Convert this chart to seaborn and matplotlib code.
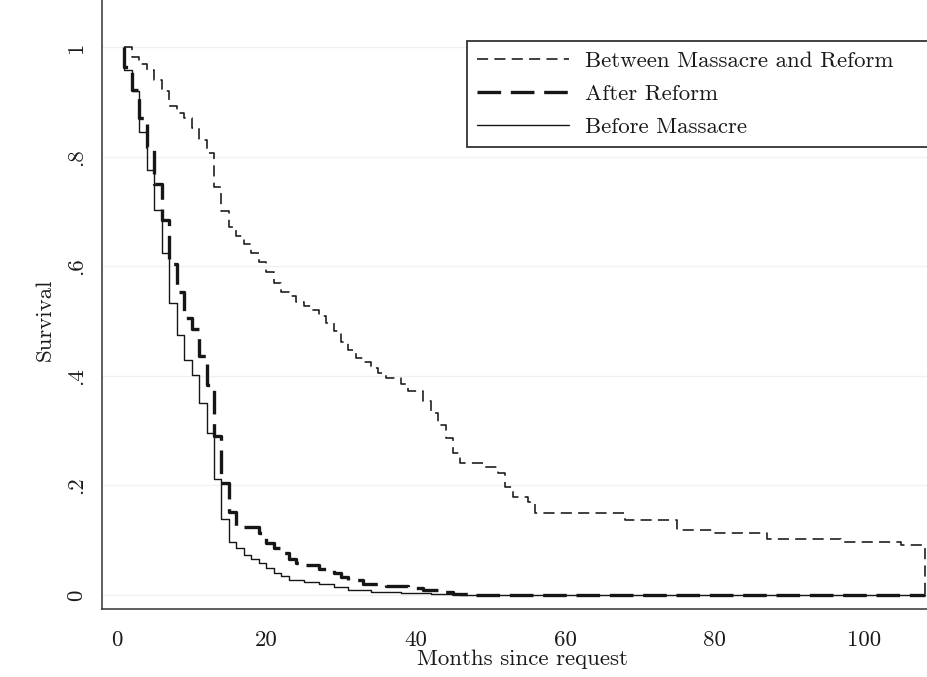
import matplotlib
matplotlib.use("Agg")
import matplotlib.pyplot as plt
import seaborn as sns
import pandas as pd

# ---- data ----
before_t = [1, 1, 2, 3, 4, 5, 6, 7, 8, 9, 10, 11, 12, 13, 14, 15, 16, 17, 18, 19,
            20, 21, 22, 23, 25, 27, 29, 31, 34, 38, 42, 46, 108.2]
before_s = [1.0, 0.958, 0.92, 0.845, 0.776, 0.703, 0.625, 0.533, 0.474, 0.429,
            0.401, 0.350, 0.296, 0.211, 0.139, 0.097, 0.085, 0.073, 0.065, 0.058,
            0.049, 0.040, 0.034, 0.027, 0.024, 0.020, 0.015, 0.009, 0.006, 0.004,
            0.002, 0.0, 0.0]

after_t = [1, 1, 2, 3, 4, 5, 6, 7, 8, 9, 10, 11, 12, 13, 14, 15, 16, 19, 20, 21,
           22, 23, 24, 25, 27, 29, 30, 31, 33, 36, 39, 41, 43, 45, 47, 108.2]
after_s = [1.0, 0.964, 0.921, 0.870, 0.817, 0.751, 0.684, 0.605, 0.553, 0.505,
           0.486, 0.436, 0.383, 0.29, 0.205, 0.152, 0.125, 0.113, 0.095, 0.086,
           0.077, 0.065, 0.058, 0.055, 0.048, 0.040, 0.032, 0.027, 0.021, 0.017,
           0.013, 0.010, 0.006, 0.002, 0.0, 0.0]

between_t = [1, 2, 3, 4, 5, 6, 7, 8, 9, 10, 11, 12, 13, 14, 15, 16, 17, 18, 19, 20,
             21, 22, 23, 24, 25, 26, 27, 28, 29, 30, 31, 32, 33, 34, 35, 36, 38, 39,
             41, 42, 43, 44, 45, 46, 49, 51, 52, 53, 55, 56, 68, 75, 80, 87, 97, 105,
             108.2]
between_s = [1.0, 0.982, 0.97, 0.958, 0.94, 0.92, 0.893, 0.88, 0.87, 0.853,
             0.83, 0.806, 0.745, 0.70, 0.672, 0.655, 0.64, 0.624, 0.608, 0.59,
             0.57, 0.553, 0.545, 0.535, 0.528, 0.52, 0.51, 0.497, 0.482, 0.462,
             0.447, 0.432, 0.425, 0.415, 0.405, 0.397, 0.385, 0.373,
             0.355, 0.332, 0.31, 0.286, 0.259, 0.241, 0.234, 0.222, 0.198, 0.179,
             0.17, 0.149, 0.137, 0.119, 0.113, 0.103, 0.097, 0.091,
             0.0]

series_labels = ["Between Massacre and Reform", "After Reform", "Before Massacre"]
x_ticks = [0, 20, 40, 60, 80, 100]
y_ticks = [0, 0.2, 0.4, 0.6, 0.8, 1.0]
y_ticklabels = ["0", ".2", ".4", ".6", ".8", "1"]

# ---- style ----
sns.set_style("white")
plt.rcParams["font.family"] = ["cmr10", "DejaVu Serif"]
plt.rcParams["axes.unicode_minus"] = False
plt.rcParams["lines.scale_dashes"] = False

FS = 16.5
fig = plt.figure(figsize=(9.28, 6.77), dpi=100)
W, H = 928, 677
ax = fig.add_axes([102 / W, 1 - 609 / H, 826 / W, 609 / H])

ink = "#161616"
sns.lineplot(x=between_t, y=between_s, ax=ax, sort=False, estimator=None,
             drawstyle="steps-post", color=ink, lw=1.15,
             linestyle=(0, (8, 4.5)), label=series_labels[0])
sns.lineplot(x=after_t, y=after_s, ax=ax, sort=False, estimator=None,
             drawstyle="steps-post", color=ink, lw=2.4,
             linestyle=(0, (17, 7)), label=series_labels[1])
sns.lineplot(x=before_t, y=before_s, ax=ax, sort=False, estimator=None,
             drawstyle="steps-post", color=ink, lw=1.0,
             linestyle="-", label=series_labels[2])

ax.set_xlim(-2.0, 108.6)
ax.set_ylim(-0.0255, 1.086)

ax.set_xticks(x_ticks)
ax.set_xticklabels([str(v) for v in x_ticks])
ax.set_yticks(y_ticks)
ax.set_yticklabels(y_ticklabels, rotation=90, va="center")

ax.tick_params(axis="both", direction="out", length=7.5, width=1.0,
               color="#333333", labelsize=FS, labelcolor="#1a1a1a")
ax.tick_params(axis="x", pad=8)
ax.tick_params(axis="y", pad=4)

for s in ["top", "right"]:
    ax.spines[s].set_visible(False)
for s in ["left", "bottom"]:
    ax.spines[s].set_color("#333333")
    ax.spines[s].set_linewidth(1.1)

ax.grid(axis="y", color="#f0f0f0", lw=1.0)
ax.set_axisbelow(True)

ax.set_xlabel("Months since request", fontsize=FS, color="#1a1a1a")
ax.xaxis.set_label_coords((522 - 102) / 826, -40 / 609)
ax.set_ylabel("Survival", fontsize=FS, color="#1a1a1a")
ax.yaxis.set_label_coords(-(102 - 55) / 826, (609 - 320) / 609)

leg = ax.legend(loc="upper left", mode="expand",
                bbox_to_anchor=(467 / W, 1 - 152 / H, (928 - 467) / W, 111 / H),
                bbox_transform=fig.transFigure, borderaxespad=0,
                frameon=True, fancybox=False, fontsize=FS,
                handlelength=4.0, handletextpad=0.7, labelspacing=0.56,
                borderpad=0.45)
frame = leg.get_frame()
frame.set_edgecolor("#333333")
frame.set_linewidth(1.3)
frame.set_facecolor("white")
frame.set_alpha(1)
for t in leg.get_texts():
    t.set_color("#1a1a1a")

fig.savefig("out.png", dpi=100)
